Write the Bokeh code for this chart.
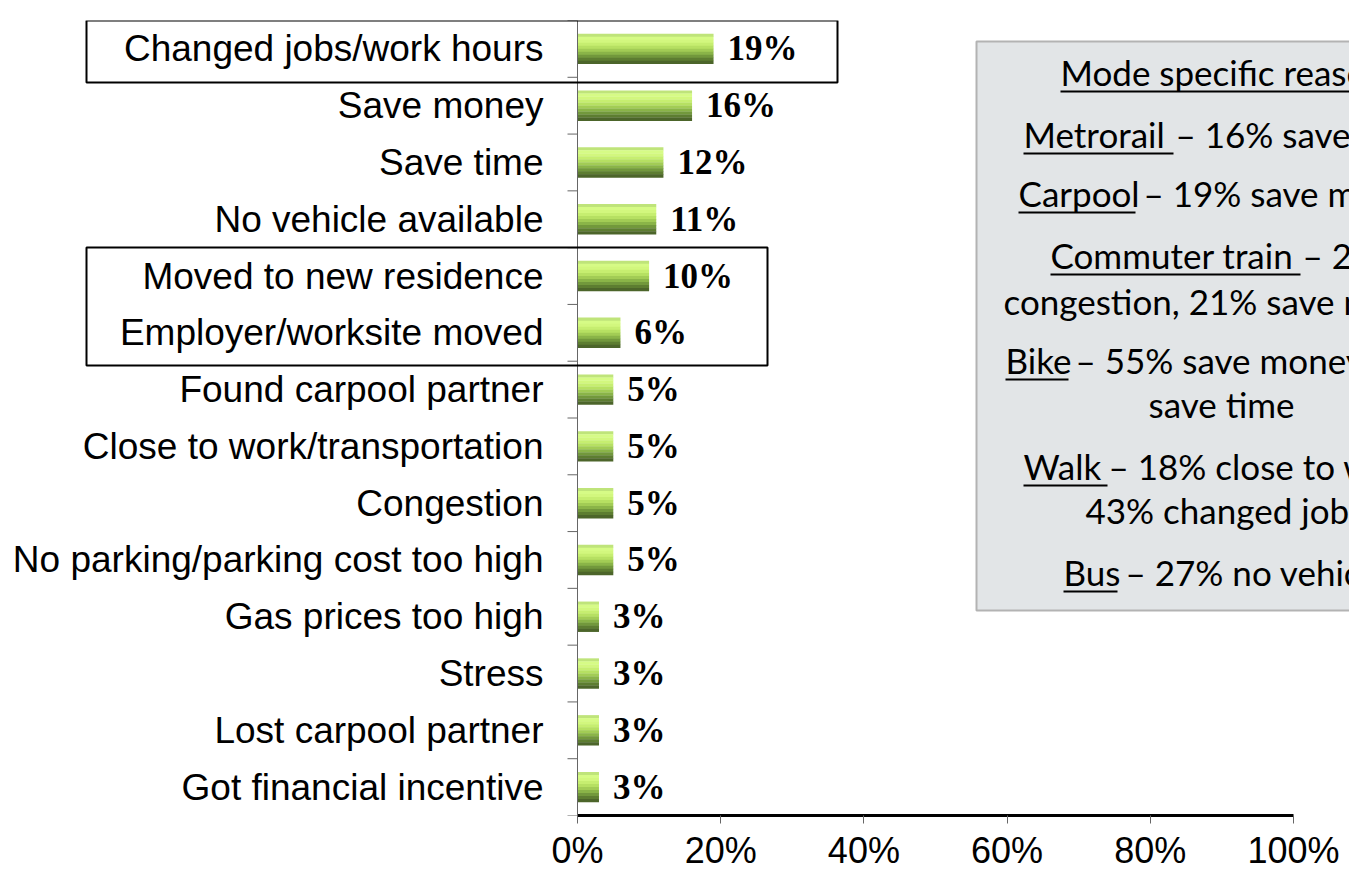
from bokeh.plotting import figure
from bokeh.models import Range1d, FixedTicker, PrintfTickFormatter, BoxAnnotation, Label, Span
from bokeh.embed import file_html
from bokeh.resources import INLINE
from bokeh.core.properties import value
import numpy as np

# ---------------- data ----------------
categories = [
    "Changed jobs/work hours",
    "Save money",
    "Save time",
    "No vehicle available",
    "Moved to new residence",
    "Employer/worksite moved",
    "Found carpool partner",
    "Close to work/transportation",
    "Congestion",
    "No parking/parking cost too high",
    "Gas prices too high",
    "Stress",
    "Lost carpool partner",
    "Got financial incentive",
]
values = [19, 16, 12, 11, 10, 6, 5, 5, 5, 5, 3, 3, 3, 3]
x_ticks = [0, 20, 40, 60, 80, 100]

# text box content: (underlined part, rest of line)
box_lines = [
    ("Mode specific reasons", ""),
    ("Metrorail", "– 16% save time"),
    ("Carpool", "– 19% save money"),
    ("Commuter train", "– 23%"),
    ("", "congestion, 21% save money"),
    ("Bike", "– 55% save money,"),
    ("", "save time"),
    ("Walk", "– 18% close to work,"),
    ("", "43% changed jobs"),
    ("Bus", "– 27% no vehicle"),
]

# ---------------- layout / style ----------------
W, H = 1349, 875
ZERO_PX, F_TOP, F_BOTTOM = 577, 20, 815
PX_PER_UNIT = 7.16
n = len(categories)
ROW = (F_BOTTOM - F_TOP) / n


def dx(px):
    return (px - ZERO_PX) / PX_PER_UNIT


def dy(py):
    return (n - 0.5) - (py - F_TOP) / ROW


pos = np.arange(n)[::-1].astype(float)  # top category highest

p = figure(width=W, height=H, output_backend="svg", toolbar_location=None,
           x_range=Range1d(dx(0), dx(W)), y_range=Range1d(-0.5, n - 0.5),
           y_axis_location=None,
           min_border_left=0, min_border_right=0,
           min_border_top=F_TOP, min_border_bottom=H - F_BOTTOM)
p.outline_line_color = None
p.grid.visible = False
p.background_fill_color = "white"
p.border_fill_color = "white"

# x axis
xa = p.xaxis[0]
xa.ticker = FixedTicker(ticks=x_ticks)
xa.formatter = PrintfTickFormatter(format="%d%%")
xa.bounds = (0, 100)
xa.axis_line_color = "black"
xa.axis_line_width = 3
xa.major_tick_line_color = "#666666"
xa.major_tick_out = 8
xa.major_tick_in = 0
xa.minor_tick_line_color = None
xa.major_label_text_font = "Liberation Sans"
xa.major_label_text_font_size = "36px"
xa.major_label_text_color = "black"
xa.major_label_text_line_height = 1.0
xa.major_label_standoff = 6

# vertical category axis line at 0 with ticks at category boundaries
p.add_layout(Span(location=0, dimension="height", line_color="#666666", line_width=1))
bounds_y = np.arange(n + 1) - 0.5
p.segment(x0=dx(ZERO_PX - 10), x1=0, y0=bounds_y, y1=bounds_y,
          line_color="#666666", line_width=1)

# category labels
p.text(x=0, y=pos, text=categories, x_offset=-34,
       text_baseline="middle", text_align="right",
       text_font=value("Liberation Sans"), text_font_size="37px", text_color="black")

# bars with vertical gradient (stacked thin strips)
grad_colors = ["#bfe47a", "#d6fb86", "#d2f77e", "#c6ee70", "#b6e062",
               "#a2cc55", "#8ab448", "#72983c", "#5d7d31", "#4c652a"]
bar_h = 0.53
ns = len(grad_colors)
for k, col in enumerate(grad_colors):
    off = bar_h / 2 - (k + 0.5) * bar_h / ns
    p.hbar(y=pos + off, left=0, right=values, height=bar_h / ns * 1.1,
           fill_color=col, line_color=None)

# value labels
p.text(x=values, y=pos, text=[f"{v}%" for v in values], x_offset=14,
       text_baseline="middle", text_align="left",
       text_font=value("Liberation Serif"), text_font_style="bold",
       text_font_size="35px", text_color="black")

# highlight boxes
for (l, r, t, b) in [(86, 837, 20, 82), (86, 767, 247, 365)]:
    p.add_layout(BoxAnnotation(left=dx(l), right=dx(r), top=dy(t), bottom=dy(b),
                               fill_color=None, fill_alpha=0,
                               line_color="black", line_alpha=1, line_width=2))

# grey text box
p.add_layout(BoxAnnotation(left=dx(976), right=dx(1500), top=dy(41), bottom=dy(610),
                           fill_color="#e2e5e7", fill_alpha=1,
                           line_color="#b3b3b3", line_alpha=1, line_width=2))

# positions of each box line: (x of underlined part, baseline, x of rest, underline end)
line_pos = [
    (1060, 85, 1060, 1500),
    (1023, 147, 1175, 1173),
    (1018, 206, 1143, 1135),
    (1050, 268, 1302, 1300),
    (1003, 314, 1003, None),
    (1005, 373, 1075, 1068),
    (1148, 417, 1148, None),
    (1023, 479, 1108, 1107),
    (1085, 523, 1085, None),
    (1063, 585, 1125, 1117),
]
FONT_BOX = "Lato"
FS_BOX = 35
for (ul, rest), (x0, base, xr, uend) in zip(box_lines, line_pos):
    ymid = dy(base - 0.387 * FS_BOX)
    if ul:
        p.add_layout(Label(x=dx(x0), y=ymid, text=ul, text_font=FONT_BOX,
                           text_font_size=f"{FS_BOX}px", text_color="black",
                           text_baseline="middle", text_align="left"))
        p.add_layout(BoxAnnotation(left=dx(x0), right=dx(uend), top=dy(base + 5), bottom=dy(base + 7),
                                   fill_color="black", fill_alpha=1, line_color=None))
    if rest:
        p.add_layout(Label(x=dx(xr), y=ymid, text=rest, text_font=FONT_BOX,
                           text_font_size=f"{FS_BOX}px", text_color="black",
                           text_baseline="middle", text_align="left"))

open("out.html", "w").write(file_html(p, INLINE))
